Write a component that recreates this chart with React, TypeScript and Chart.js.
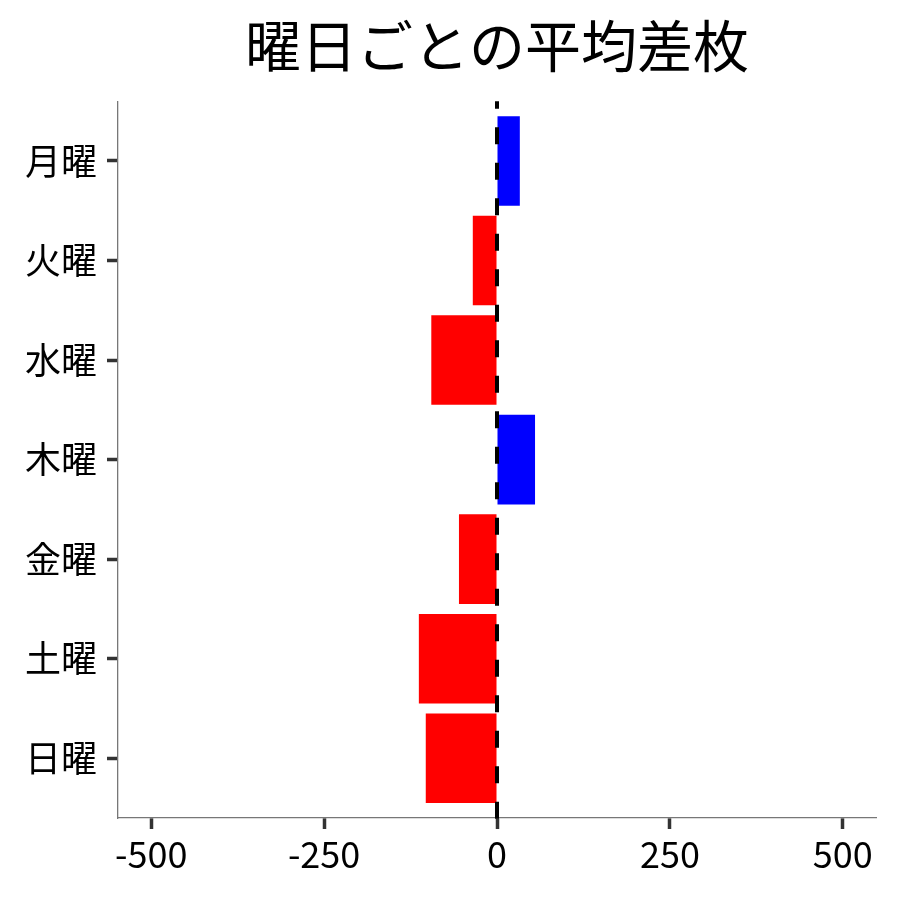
import { useRef, useEffect } from "react";
import { Chart, registerables, type Plugin } from "chart.js";

Chart.register(...registerables);

const FONT = '"Noto Sans CJK JP", "Noto Sans", sans-serif';

const DAYS = ["月曜", "火曜", "水曜", "木曜", "金曜", "土曜", "日曜"];
const AVG_DIFF = [33, -35, -95, 55, -55, -113, -103];
const X_TICKS = [-500, -250, 0, 250, 500];

const POS_COLOR = "#0000FF";
const NEG_COLOR = "#FF0000";

// dashed vertical reference line at x = 0, drawn over the bars
const zeroLine: Plugin = {
  id: "zeroLine",
  afterDatasetsDraw(chart) {
    const { ctx, chartArea, scales } = chart;
    const x = scales.x.getPixelForValue(0);
    ctx.save();
    ctx.strokeStyle = "#000000";
    ctx.lineWidth = 4;
    ctx.setLineDash([17, 18.5]);
    ctx.lineDashOffset = 9.5;
    ctx.beginPath();
    ctx.moveTo(x, chartArea.top);
    ctx.lineTo(x, chartArea.bottom + 1);
    ctx.stroke();
    ctx.restore();
  },
};

export default function App() {
  const ref = useRef<HTMLCanvasElement>(null);

  useEffect(() => {
    document.body.style.margin = "0";
    if (!ref.current) return;
    const chart = new Chart(ref.current, {
      type: "bar",
      data: {
        datasets: [{
          label: "平均差枚",
          data: AVG_DIFF.map((v, i) => ({ x: v, y: i })),
          backgroundColor: AVG_DIFF.map((v) => (v >= 0 ? POS_COLOR : NEG_COLOR)),
          borderWidth: 0,
          barPercentage: 0.9,
          categoryPercentage: 1,
        }],
      },
      options: {
        indexAxis: "y",
        animation: false,
        responsive: false,
        layout: { padding: { right: 24, left: 0, top: 0, bottom: 0 } },
        plugins: {
          legend: { display: false },
          tooltip: { enabled: false },
          title: {
            display: true,
            text: "曜日ごとの平均差枚",
            color: "#000000",
            fullSize: false,
            font: { family: FONT, size: 56, weight: "normal", lineHeight: 1.2 },
            padding: { top: 12, bottom: 22 },
          },
        },
        scales: {
          x: {
            type: "linear",
            min: -548,
            max: 548,
            afterBuildTicks: (s) => { s.ticks = X_TICKS.map((value) => ({ value })); },
            afterFit: (s) => { s.height = 82; },
            ticks: {
              color: "#000000",
              font: { family: FONT, size: 36 },
              padding: 4,
              maxRotation: 0,
            },
            grid: { drawOnChartArea: false, tickLength: 11, tickColor: "#333333", tickWidth: 3.5 },
            border: { color: "#777777", width: 1.3 },
          },
          y: {
            type: "linear",
            min: -0.6,
            max: 6.6,
            reverse: true,
            offset: false,
            afterBuildTicks: (s) => { s.ticks = DAYS.map((_, i) => ({ value: i })); },
            afterFit: (s) => { s.width = 118; },
            ticks: {
              color: "#000000",
              font: { family: FONT, size: 36 },
              padding: 10,
              callback: (v) => DAYS[Number(v)] ?? "",
            },
            grid: { offset: false, drawOnChartArea: false, tickLength: 11, tickColor: "#333333", tickWidth: 3.5 },
            border: { color: "#777777", width: 1.3 },
          },
        },
      },
      plugins: [zeroLine],
    });
    return () => { chart.destroy(); };
  }, []);

  return (
    <div style={{ width: 900, height: 900, background: "#FFFFFF" }}>
      <canvas ref={ref} width={900} height={900} />
    </div>
  );
}
